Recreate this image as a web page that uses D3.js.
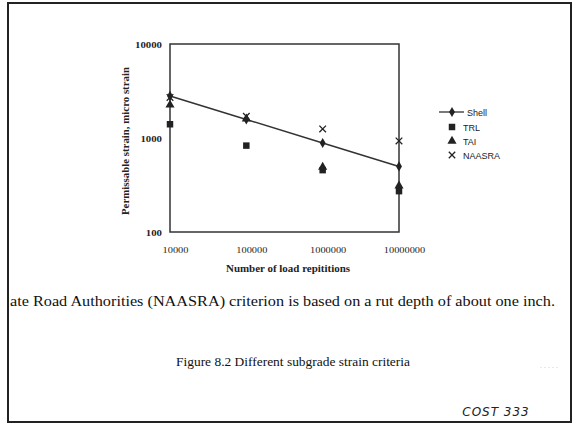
<!DOCTYPE html>
<html><head><meta charset="utf-8">
<script src="https://cdn.jsdelivr.net/npm/d3@7"></script>
<style>body{margin:0;background:#fff}svg{display:block}</style>
</head><body>
<script>
const repetitions = [1e4, 1e5, 1e6, 1e7];
const xTickLabels = ["10000", "100000", "1000000", "10000000"];
const yTickValues = [100, 1000, 10000];
const yTickLabels = ["100", "1000", "10000"];
const shell = [2800, 1575, 885, 498];
const trl = [1400, 830, 455, 272];
const tai = [2250, 1600, 490, 310];
const naasra = [2700, 1700, 1250, 930];
const legendNames = ["Shell", "TRL", "TAI", "NAASRA"];

const W = 578, H = 427;
const svg = d3.select("body").append("svg").attr("width", W).attr("height", H);
svg.append("rect").attr("width", W).attr("height", H).attr("fill", "#fff");
svg.append("rect").attr("x", 8).attr("y", 3).attr("width", 563).attr("height", 419)
  .attr("fill", "none").attr("stroke", "#222").attr("stroke-width", 2);

const L = 170, R = 399, T = 44, B = 232;
const x = d3.scaleLog().domain([1e4, 1e7]).range([L, R]);
const y = d3.scaleLog().domain([100, 10000]).range([B, T]);

const serif = "'Liberation Serif', 'Times New Roman', serif";

// frame
svg.append("rect").attr("x", L).attr("y", T).attr("width", R - L).attr("height", B - T)
  .attr("fill", "none").attr("stroke", "#333").attr("stroke-width", 1.5);

// axes (labels only)
const xAxis = svg.append("g").attr("transform", `translate(5,${B + 13})`)
  .call(d3.axisBottom(x).tickValues(repetitions).tickSize(0).tickFormat((d, i) => xTickLabels[i]));
xAxis.select(".domain").remove();
xAxis.selectAll("text").attr("font-family", serif).attr("font-size", 9).attr("fill", "#222")
  .attr("transform", "scale(1.15,0.85)")
  .attr("x", function(d){ return 0; });
// undo scale drift: place labels in tick groups (scale applies around tick origin)

const yAxis = svg.append("g").attr("transform", `translate(${L - 8},0)`)
  .call(d3.axisLeft(y).tickValues(yTickValues).tickSize(0).tickFormat((d, i) => yTickLabels[i]));
yAxis.select(".domain").remove();
yAxis.selectAll("text").attr("font-family", serif).attr("font-size", 9).attr("font-weight", "bold").attr("fill", "#222")
  .attr("transform", "scale(1.2,0.8)").attr("x", 0).attr("dy", "0.45em");

svg.append("text").attr("x", 288).attr("y", 272).attr("text-anchor", "middle")
  .attr("font-family", serif).attr("font-size", 10).attr("font-weight", "bold").attr("fill", "#222")
  .attr("textLength", 124).attr("lengthAdjust", "spacingAndGlyphs")
  .text("Number of load repititions");
svg.append("text").attr("transform", `translate(129,141) rotate(-90)`)
  .attr("text-anchor", "middle").attr("font-family", serif).attr("font-size", 10)
  .attr("font-weight", "bold").attr("fill", "#222")
  .attr("textLength", 148).attr("lengthAdjust", "spacingAndGlyphs")
  .text("Permissable strain, micro strain");

const sym = {
  Shell: d3.symbol().type(d3.symbolDiamond).size(30),
  TRL: d3.symbol().type(d3.symbolSquare).size(42),
  TAI: d3.symbol().type(d3.symbolTriangle).size(36)
};
function drawX(g, cx, cy, s) {
  g.append("path").attr("d", `M${cx - s},${cy - s}L${cx + s},${cy + s}M${cx - s},${cy + s}L${cx + s},${cy - s}`)
    .attr("stroke", "#222").attr("stroke-width", 1.3).attr("fill", "none");
}

const g = svg.append("g");
const line = d3.line().x((d, i) => x(repetitions[i])).y(d => y(d));
g.append("path").datum(shell).attr("d", line).attr("fill", "none").attr("stroke", "#333").attr("stroke-width", 1.5);

trl.forEach((v, i) => g.append("path").attr("d", sym.TRL()).attr("transform", `translate(${x(repetitions[i])},${y(v)})`).attr("fill", "#222"));
tai.forEach((v, i) => g.append("path").attr("d", sym.TAI()).attr("transform", `translate(${x(repetitions[i])},${y(v)})`).attr("fill", "#222"));
naasra.forEach((v, i) => drawX(g, x(repetitions[i]), y(v), 3.3));
shell.forEach((v, i) => g.append("path").attr("d", sym.Shell()).attr("transform", `translate(${x(repetitions[i])},${y(v)})`).attr("fill", "#222"));

// legend
const lg = svg.append("g");
const lx = 452, ly = [112, 127, 141, 155];
legendNames.forEach((name, i) => {
  const cy = ly[i];
  if (name === "Shell") {
    lg.append("line").attr("x1", 439).attr("x2", 464).attr("y1", cy).attr("y2", cy).attr("stroke", "#333").attr("stroke-width", 1.3);
    lg.append("path").attr("d", sym.Shell()).attr("transform", `translate(${lx},${cy})`).attr("fill", "#222");
  } else if (name === "NAASRA") {
    drawX(lg, lx, cy, 3.2);
  } else {
    lg.append("path").attr("d", sym[name]()).attr("transform", `translate(${lx},${cy})`).attr("fill", "#222");
  }
  lg.append("text").attr("x", name === "Shell" ? 467 : 463).attr("y", cy + 3.5)
    .attr("font-family", "'Liberation Sans', Arial, sans-serif").attr("font-size", 9).attr("fill", "#222").text(name);
});

// body text
svg.append("text").attr("x", 10).attr("y", 306).attr("font-family", serif).attr("font-size", 15).attr("fill", "#111")
  .attr("textLength", 545).attr("lengthAdjust", "spacingAndGlyphs")
  .text("ate Road Authorities (NAASRA) criterion is based on a rut depth of about one inch.");
svg.append("text").attr("x", 176).attr("y", 366).attr("font-family", serif)
  .attr("font-size", 13).attr("fill", "#111")
  .attr("textLength", 234).attr("lengthAdjust", "spacingAndGlyphs")
  .text("Figure 8.2  Different subgrade strain criteria");
svg.append("text").attr("x", 540).attr("y", 368).attr("font-family", serif).attr("font-size", 8)
  .attr("fill", "#bbb").text(". .   .   . .");
svg.append("text").attr("x", 496).attr("y", 416).attr("text-anchor", "middle")
  .attr("font-family", "'DejaVu Sans', sans-serif").attr("font-style", "italic").attr("font-size", 12)
  .attr("font-weight", 300).attr("fill", "#222").attr("letter-spacing", 1).text("COST 333");
</script>
</body></html>
